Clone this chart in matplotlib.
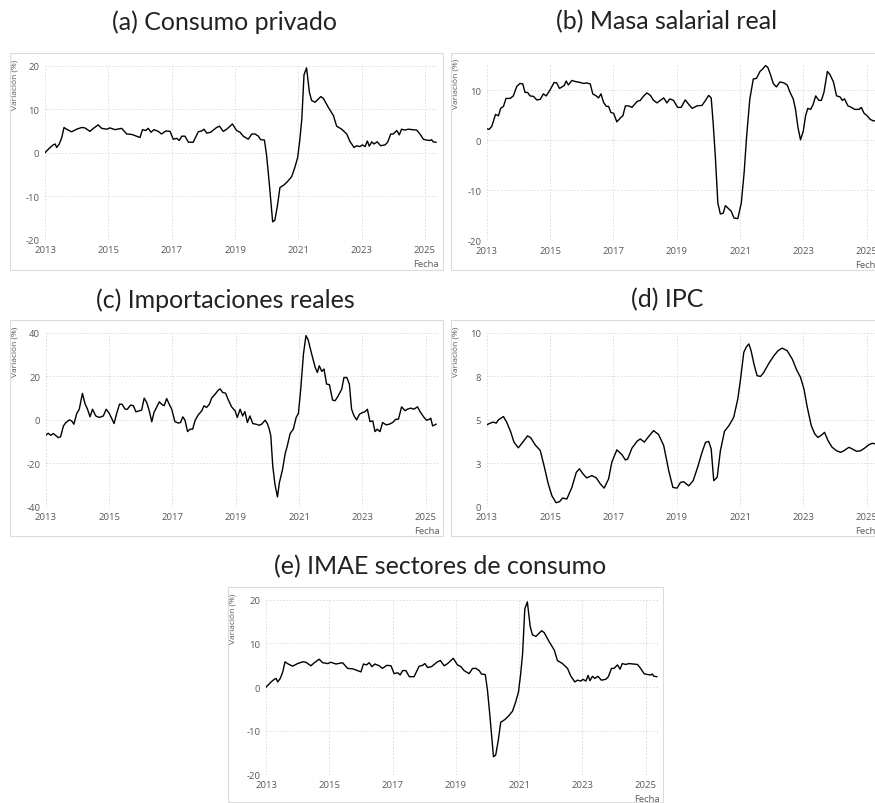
import matplotlib
matplotlib.use("Agg")
import matplotlib.pyplot as plt
from matplotlib.patches import Rectangle

# ---- data (decimal years) ----
consumo_t = [2013.00, 2013.16, 2013.26, 2013.32, 2013.37, 2013.45, 2013.53, 2013.60, 2013.68, 2013.84,
             2014.00, 2014.16, 2014.26, 2014.42, 2014.53, 2014.68, 2014.79, 2014.95, 2015.05, 2015.21,
             2015.42, 2015.58, 2015.74, 2015.89, 2016.00, 2016.08, 2016.18, 2016.26, 2016.35, 2016.44,
             2016.58, 2016.68, 2016.82, 2016.95, 2017.05, 2017.16, 2017.24, 2017.32, 2017.42, 2017.53,
             2017.68, 2017.84, 2017.95, 2018.02, 2018.11, 2018.23, 2018.42, 2018.51, 2018.63, 2018.74,
             2018.92, 2019.05, 2019.16, 2019.26, 2019.42, 2019.53, 2019.63, 2019.74, 2019.81, 2019.93,
             2020.00, 2020.08, 2020.19, 2020.26, 2020.34, 2020.42, 2020.55, 2020.65, 2020.79, 2020.89,
             2020.98, 2021.05, 2021.11, 2021.18, 2021.26, 2021.35, 2021.42, 2021.53, 2021.71, 2021.79,
             2021.95, 2022.11, 2022.21, 2022.37, 2022.53, 2022.63, 2022.76, 2022.84, 2022.95, 2023.02,
             2023.11, 2023.18, 2023.24, 2023.32, 2023.39, 2023.49, 2023.60, 2023.74, 2023.82, 2023.92,
             2024.00, 2024.11, 2024.19, 2024.26, 2024.37, 2024.47, 2024.74, 2024.84, 2024.95, 2025.05,
             2025.16, 2025.21, 2025.26, 2025.35]
consumo_v = [0.0, 1.2, 1.8, 2.0, 1.2, 2.0, 3.5, 5.8, 5.4, 4.8,
             5.4, 5.8, 5.7, 4.9, 5.6, 6.4, 5.6, 5.4, 5.7, 5.3,
             5.6, 4.3, 4.2, 3.8, 3.5, 5.3, 5.1, 5.6, 4.7, 5.3,
             4.9, 4.3, 5.0, 4.9, 3.1, 3.3, 2.8, 3.8, 3.8, 2.4,
             2.4, 4.8, 5.0, 5.4, 4.5, 4.7, 5.8, 6.1, 4.9, 5.4,
             6.6, 5.1, 4.7, 3.8, 3.1, 4.3, 4.3, 3.8, 3.0, 2.9,
             -0.7, -6.8, -15.9, -15.5, -12.2, -8.0, -7.4, -6.7, -5.5, -3.4,
             -1.1, 3.1, 7.7, 17.9, 19.5, 13.9, 12.0, 11.6, 12.9, 12.5,
             10.4, 8.5, 6.1, 5.4, 4.3, 2.6, 1.2, 1.6, 1.4, 1.8,
             1.4, 2.7, 1.5, 2.5, 2.0, 2.5, 1.6, 1.8, 2.4, 4.3,
             4.3, 5.1, 4.1, 5.4, 5.2, 5.4, 5.2, 4.3, 3.1, 2.9,
             2.8, 3.0, 2.5, 2.4]

masa_t = [2013.00, 2013.08, 2013.16, 2013.23, 2013.28, 2013.37, 2013.44, 2013.53, 2013.61, 2013.74,
          2013.84, 2013.95, 2014.05, 2014.14, 2014.21, 2014.29, 2014.37, 2014.48, 2014.58, 2014.69,
          2014.79, 2014.88, 2015.00, 2015.13, 2015.21, 2015.30, 2015.40, 2015.45, 2015.51, 2015.58,
          2015.69, 2015.79, 2015.95, 2016.06, 2016.16, 2016.27, 2016.35, 2016.46, 2016.53, 2016.61,
          2016.69, 2016.78, 2016.85, 2016.92, 2017.01, 2017.11, 2017.24, 2017.30, 2017.38, 2017.48,
          2017.59, 2017.75, 2017.85, 2017.96, 2018.06, 2018.17, 2018.27, 2018.38, 2018.48, 2018.59,
          2018.69, 2018.78, 2018.90, 2019.03, 2019.14, 2019.27, 2019.38, 2019.49, 2019.64, 2019.80,
          2019.91, 2020.01, 2020.09, 2020.15, 2020.22, 2020.30, 2020.38, 2020.47, 2020.54, 2020.65,
          2020.72, 2020.81, 2020.93, 2021.04, 2021.13, 2021.21, 2021.31, 2021.42, 2021.52, 2021.63,
          2021.70, 2021.81, 2021.88, 2021.96, 2022.05, 2022.15, 2022.26, 2022.39, 2022.49, 2022.58,
          2022.68, 2022.75, 2022.83, 2022.91, 2023.00, 2023.07, 2023.14, 2023.23, 2023.31, 2023.39,
          2023.49, 2023.57, 2023.65, 2023.76, 2023.84, 2023.95, 2024.05, 2024.16, 2024.23, 2024.30,
          2024.41, 2024.52, 2024.62, 2024.76, 2024.83, 2024.92, 2025.02, 2025.11, 2025.21, 2025.29,
          2025.35]
masa_v = [2.3, 2.2, 2.8, 4.2, 5.2, 4.9, 6.4, 6.8, 8.4, 8.4,
          8.9, 10.8, 11.4, 11.3, 9.6, 9.6, 8.9, 8.8, 8.1, 8.2,
          9.3, 8.9, 10.1, 11.6, 11.5, 10.4, 10.8, 11.0, 11.9, 11.1,
          12.0, 11.8, 11.6, 11.4, 11.5, 11.3, 9.3, 8.9, 8.5, 9.3,
          7.6, 6.8, 6.8, 5.6, 5.4, 3.7, 4.6, 4.9, 6.9, 6.9,
          6.6, 7.8, 8.0, 8.9, 9.5, 9.0, 8.0, 7.5, 8.0, 8.5,
          7.5, 8.3, 8.0, 6.6, 6.6, 8.1, 7.2, 6.4, 6.9, 7.0,
          8.0, 9.0, 8.5, 3.6, -3.2, -12.6, -14.8, -14.6, -13.1, -13.8,
          -14.2, -15.6, -15.7, -12.6, -6.5, 0.9, 8.3, 12.3, 12.4, 13.8,
          14.2, 15.0, 14.6, 13.2, 11.4, 10.7, 11.7, 11.5, 11.1, 9.6,
          8.3, 6.3, 2.6, 0.1, 1.9, 4.9, 6.4, 6.2, 7.2, 8.9,
          8.0, 8.0, 9.6, 13.8, 13.2, 11.7, 8.9, 8.7, 8.0, 8.3,
          6.9, 6.6, 6.2, 6.2, 6.6, 5.4, 4.9, 4.2, 3.9, 3.9,
          3.8]

import_t = [2013.00, 2013.08, 2013.16, 2013.24, 2013.33, 2013.40, 2013.47, 2013.56, 2013.64, 2013.75,
            2013.82, 2013.89, 2013.98, 2014.06, 2014.16, 2014.24, 2014.32, 2014.40, 2014.48, 2014.58,
            2014.69, 2014.82, 2014.91, 2015.01, 2015.16, 2015.24, 2015.33, 2015.41, 2015.51, 2015.58,
            2015.68, 2015.77, 2015.85, 2015.96, 2016.03, 2016.11, 2016.19, 2016.27, 2016.35, 2016.42,
            2016.51, 2016.59, 2016.66, 2016.74, 2016.82, 2016.91, 2016.98, 2017.08, 2017.19, 2017.26,
            2017.33, 2017.40, 2017.48, 2017.56, 2017.64, 2017.72, 2017.82, 2017.93, 2018.00, 2018.08,
            2018.17, 2018.24, 2018.35, 2018.45, 2018.51, 2018.59, 2018.68, 2018.77, 2018.87, 2018.98,
            2019.05, 2019.14, 2019.22, 2019.29, 2019.37, 2019.45, 2019.54, 2019.64, 2019.75, 2019.82,
            2019.93, 2020.00, 2020.06, 2020.11, 2020.17, 2020.24, 2020.32, 2020.38, 2020.48, 2020.56,
            2020.63, 2020.72, 2020.82, 2020.91, 2020.98, 2021.05, 2021.14, 2021.22, 2021.29, 2021.40,
            2021.51, 2021.58, 2021.64, 2021.72, 2021.79, 2021.87, 2021.96, 2022.06, 2022.14, 2022.24,
            2022.35, 2022.42, 2022.51, 2022.59, 2022.66, 2022.74, 2022.82, 2022.91, 2023.01, 2023.08,
            2023.16, 2023.24, 2023.33, 2023.40, 2023.47, 2023.56, 2023.64, 2023.75, 2023.85, 2023.96,
            2024.06, 2024.14, 2024.24, 2024.35, 2024.42, 2024.53, 2024.63, 2024.74, 2024.84, 2024.95,
            2025.03, 2025.12, 2025.16, 2025.22, 2025.33]
import_v = [-7.1, -6.2, -7.1, -6.3, -7.4, -8.2, -7.8, -2.8, -1.2, 0.0,
            -0.5, -2.0, 2.9, 4.9, 12.2, 7.5, 4.9, 1.4, 4.9, 1.8,
            1.1, 1.8, 4.9, 2.9, -1.7, 2.9, 7.2, 7.2, 4.9, 4.9,
            6.8, 6.5, 3.7, 4.2, 4.5, 10.0, 8.0, 4.2, -0.9, 3.4,
            6.0, 8.3, 7.2, 6.5, 9.8, 6.9, 4.9, -0.8, -1.5, -1.2,
            1.4, -0.2, -5.4, -4.3, -4.3, -0.2, 2.3, 4.2, 6.5, 5.7,
            7.2, 10.0, 11.8, 13.7, 14.2, 12.6, 12.3, 9.1, 6.0, 4.2,
            1.1, 4.9, 1.8, 3.8, -1.2, 1.8, -1.7, -2.0, -2.5, -2.0,
            -0.2, -1.7, -4.3, -7.4, -21.2, -29.7, -35.5, -28.9, -22.8, -15.8,
            -12.0, -6.3, -4.3, 1.1, 2.9, 13.4, 30.3, 38.8, 36.8, 30.3,
            24.2, 21.8, 24.9, 22.3, 23.4, 16.5, 16.2, 9.1, 8.8, 11.1,
            14.2, 19.5, 19.5, 16.5, 4.9, 1.8, 0.0, 2.6, 3.4, 3.7,
            4.9, -0.8, -0.5, -5.4, -4.3, -5.4, -1.2, -2.3, -2.0, -1.2,
            0.3, 0.3, 6.0, 4.2, 4.9, 5.4, 4.9, 6.0, 3.4, 1.1,
            -0.2, 0.3, 0.8, -2.8, -2.0]

ipc_t = [2013.00, 2013.11, 2013.21, 2013.30, 2013.37, 2013.53, 2013.63, 2013.76, 2013.86, 2014.00,
         2014.14, 2014.29, 2014.39, 2014.53, 2014.69, 2014.81, 2014.95, 2015.06, 2015.19, 2015.30,
         2015.40, 2015.53, 2015.69, 2015.83, 2015.93, 2016.04, 2016.16, 2016.32, 2016.46, 2016.59,
         2016.71, 2016.85, 2016.95, 2017.11, 2017.27, 2017.38, 2017.45, 2017.59, 2017.75, 2017.85,
         2017.98, 2018.11, 2018.27, 2018.43, 2018.59, 2018.75, 2018.88, 2019.01, 2019.12, 2019.22,
         2019.38, 2019.52, 2019.66, 2019.80, 2019.91, 2020.01, 2020.09, 2020.17, 2020.28, 2020.38,
         2020.51, 2020.65, 2020.80, 2020.93, 2021.01, 2021.12, 2021.20, 2021.28, 2021.35, 2021.44,
         2021.54, 2021.65, 2021.75, 2021.91, 2022.07, 2022.20, 2022.33, 2022.49, 2022.65, 2022.79,
         2022.91, 2023.02, 2023.12, 2023.25, 2023.36, 2023.46, 2023.55, 2023.67, 2023.78, 2023.91,
         2024.05, 2024.18, 2024.28, 2024.44, 2024.55, 2024.68, 2024.81, 2024.94, 2025.07, 2025.18,
         2025.29, 2025.35]
ipc_v = [4.71, 4.81, 4.87, 4.81, 5.0, 5.19, 4.87, 4.3, 3.72, 3.39,
         3.72, 4.08, 3.97, 3.56, 3.24, 2.37, 1.27, 0.63, 0.23, 0.29,
         0.5, 0.44, 1.11, 1.98, 2.18, 1.89, 1.66, 1.79, 1.66, 1.31,
         1.07, 1.6, 2.56, 3.27, 3.0, 2.69, 2.74, 3.38, 3.77, 3.9,
         3.72, 4.03, 4.38, 4.15, 3.52, 2.07, 1.11, 1.07, 1.4, 1.44,
         1.2, 1.5, 2.26, 3.13, 3.7, 3.76, 3.32, 1.5, 1.7, 3.22,
         4.34, 4.67, 5.14, 6.2, 7.25, 8.89, 9.2, 9.37, 8.98, 8.21,
         7.54, 7.5, 7.73, 8.25, 8.69, 8.98, 9.13, 8.98, 8.5, 7.87,
         7.45, 6.77, 5.76, 4.67, 4.19, 3.99, 4.09, 4.28, 3.8, 3.42,
         3.22, 3.13, 3.22, 3.42, 3.32, 3.19, 3.22, 3.38, 3.57, 3.65,
         3.61, 3.6]

year_ticks = [2013, 2015, 2017, 2019, 2021, 2023, 2025]
titles = ["(a) Consumo privado", "(b) Masa salarial real", "(c) Importaciones reales",
          "(d) IPC", "(e) IMAE sectores de consumo"]

W, H = 875, 804
fig = plt.figure(figsize=(W / 100, H / 100), dpi=100)
fig.patch.set_facecolor("white")

TXT = "#595959"
GRID = "#d9d9d9"
TICK = 6.8
SMALL = 6.0


def fx(x):
    return x / W


def fy(y):
    return 1 - y / H


def panel(box, plot, t, v, ylim, yticks, ylabels, title, title_xy):
    bx0, by0, bx1, by1 = box
    fig.add_artist(Rectangle((fx(bx0), fy(by1)), fx(bx1 - bx0), (by1 - by0) / H,
                             transform=fig.transFigure, fill=False,
                             edgecolor="#dcdcdc", linewidth=0.8))
    px0, py0, px1, py1 = plot
    ax = fig.add_axes([fx(px0), fy(py1), fx(px1 - px0), (py1 - py0) / H])
    ax.plot(t, v, color="black", linewidth=1.0)
    ax.set_xlim(2013, 2025.38)
    ax.set_ylim(*ylim)
    ax.set_xticks(year_ticks)
    ax.set_yticks(yticks)
    ax.set_yticklabels(ylabels)
    for s in ax.spines.values():
        s.set_visible(False)
    ax.grid(True, color=GRID, linestyle=(0, (2, 2)), linewidth=0.6)
    ax.tick_params(length=0, labelsize=TICK, labelcolor=TXT, pad=4)
    for lab in ax.get_xticklabels() + ax.get_yticklabels():
        lab.set_fontfamily("Open Sans")
    # axis titles
    fig.text(fx(px1 + 2), fy(py1 + 24), "Fecha", ha="right", va="center",
             fontsize=TICK, color=TXT, family="Open Sans")
    fig.text(fx(bx0 + 5), fy(py0 - 7), "Variación (%)", rotation=90, ha="center", va="top",
             fontsize=SMALL, color=TXT, family="Open Sans")
    fig.text(fx(title_xy[0]), fy(title_xy[1]), title, ha="center", va="center",
             fontsize=18, family="Lato", color="#222222")
    return ax


panel((10, 54, 443, 271), (45, 66.7, 437, 240.7), consumo_t, consumo_v,
      (-20, 20), [-20, -10, 0, 10, 20], ["-20", "-10", "0", "10", "20"], titles[0], (225, 22))
panel((451, 54, 892, 271), (486.7, 66, 878.7, 241), masa_t, masa_v,
      (-20, 15.1), [-20, -10, 0, 10], ["-20", "-10", "0", "10"], titles[1], (667, 22))
panel((10, 321, 443, 537), (45.7, 334, 437.7, 507.7), import_t, import_v,
      (-40, 40), [-40, -20, 0, 20, 40], ["-40", "-20", "0", "20", "40"], titles[2], (225, 300))
panel((451, 321, 892, 537), (486.7, 334, 878.7, 507.7), ipc_t, ipc_v,
      (0, 10), [0, 2.5, 5, 7.5, 10], ["0", "3", "5", "8", "10"], titles[3], (667, 300))
panel((228, 588, 663, 803), (266, 600.7, 657.7, 775.7), consumo_t, consumo_v,
      (-20, 20), [-20, -10, 0, 10, 20], ["-20", "-10", "0", "10", "20"], titles[4], (440, 567))

fig.savefig("out.png", dpi=100, facecolor="white")
